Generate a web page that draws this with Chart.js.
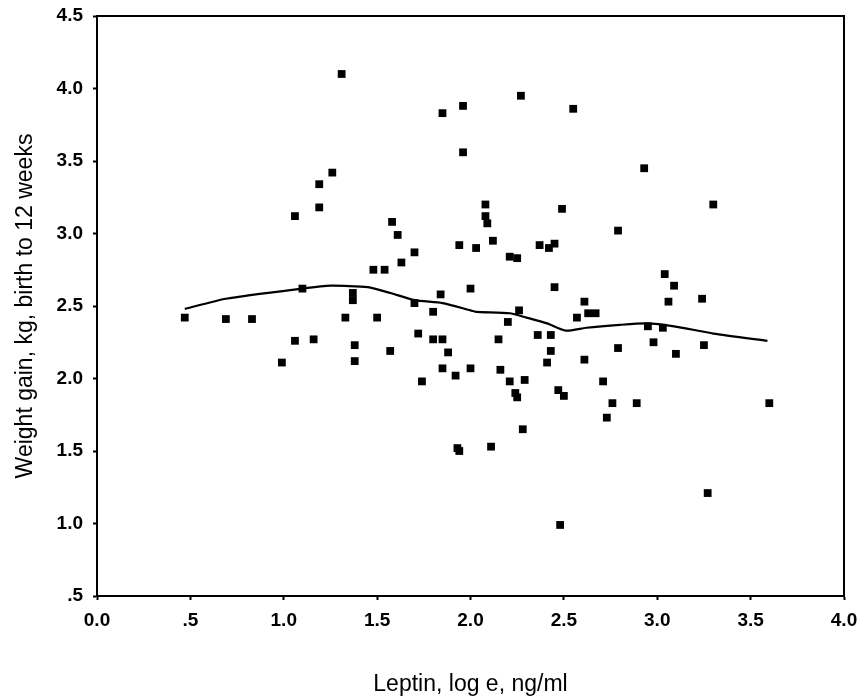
<!DOCTYPE html>
<html>
<head>
<meta charset="utf-8">
<script src="https://cdn.jsdelivr.net/npm/chart.js@4"></script>
<style>
    html, body { margin: 0; padding: 0; background: #fff; }
    #wrap { width: 859px; height: 700px; }
</style>
</head>
<body>
<div id="wrap"><canvas id="leptinChart" width="859" height="700"></canvas></div>
<script>
// Leptin (log e, ng/ml) vs weight gain birth to 12 weeks (kg)
const leptin = [
    0.47, 0.69, 0.83, 0.99, 1.06, 1.06, 1.10, 1.16, 1.19, 1.19,
    1.26, 1.31, 1.33, 1.37, 1.37, 1.38, 1.38, 1.48, 1.50, 1.54,
    1.57, 1.58, 1.61, 1.63, 1.70, 1.70, 1.72, 1.74, 1.80, 1.80,
    1.84, 1.85, 1.85, 1.85, 1.88, 1.92, 1.93, 1.94, 1.94, 1.96,
    1.96, 2.00, 2.00, 2.03, 2.08, 2.08, 2.09, 2.11, 2.12, 2.15,
    2.16, 2.20, 2.21, 2.21, 2.24, 2.25, 2.25, 2.26, 2.27, 2.28,
    2.29, 2.36, 2.37, 2.41, 2.42, 2.43, 2.43, 2.45, 2.45, 2.47,
    2.48, 2.49, 2.50, 2.55, 2.57, 2.61, 2.61, 2.63, 2.67, 2.71,
    2.73, 2.76, 2.79, 2.79, 2.89, 2.93, 2.95, 2.98, 3.03, 3.04,
    3.06, 3.09, 3.10, 3.24, 3.25, 3.27, 3.30, 3.60
];
const weightGain = [
    2.42, 2.41, 2.41, 2.11, 3.12, 2.26, 2.62, 2.27, 3.34, 3.18,
    3.42, 4.10, 2.42, 2.59, 2.54, 2.23, 2.12, 2.75, 2.42, 2.75,
    2.19, 3.08, 2.99, 2.80, 2.87, 2.52, 2.31, 1.98, 2.46, 2.27,
    2.58, 3.83, 2.27, 2.07, 2.18, 2.02, 1.52, 1.50, 2.92, 3.88,
    3.56, 2.62, 2.07, 2.90, 3.20, 3.12, 3.07, 1.53, 2.95, 2.27,
    2.06, 2.39, 2.84, 1.98, 1.90, 2.83, 1.87, 2.47, 3.95, 1.65,
    1.99, 2.30, 2.92, 2.11, 2.90, 2.30, 2.19, 2.93, 2.63, 1.92,
    0.99, 3.17, 1.88, 3.86, 2.42, 2.53, 2.13, 2.45, 2.45, 1.98,
    1.73, 1.83, 2.21, 3.02, 1.83, 3.45, 2.36, 2.25, 2.35, 2.72,
    2.53, 2.64, 2.17, 2.55, 2.23, 1.21, 3.20, 1.83
];

// smoothed fit line
const fitX = [0.47, 0.69, 1.10, 1.25, 1.45, 1.57, 1.70, 1.85, 2.00, 2.03, 2.21, 2.30, 2.41, 2.51, 2.62, 2.80, 2.94, 3.09, 3.30, 3.59];
const fitY = [2.48, 2.55, 2.62, 2.64, 2.63, 2.59, 2.54, 2.52, 2.47, 2.46, 2.45, 2.42, 2.38, 2.33, 2.35, 2.37, 2.38, 2.36, 2.31, 2.26];

const xTicks = [0, 0.5, 1, 1.5, 2, 2.5, 3, 3.5, 4];
const yTicks = [0.5, 1, 1.5, 2, 2.5, 3, 3.5, 4, 4.5];

function fmtTick(v) {
    const s = v.toFixed(1);
    return v === 0.5 ? s.replace(/^0/, '') : s;
}

const fontFamily = '"Liberation Sans", Arial, Helvetica, sans-serif';

// box around the plot area
const frame = {
    id: 'frame',
    afterDraw(chart) {
        const { ctx, chartArea: a } = chart;
        ctx.save();
        ctx.strokeStyle = '#000';
        ctx.lineWidth = 2;
        ctx.strokeRect(a.left, a.top, a.right - a.left, a.bottom - a.top);
        ctx.restore();
    }
};

const ctx = document.getElementById('leptinChart').getContext('2d');
const leptinChart = new Chart(ctx, {
    type: 'scatter',
    data: {
        datasets: [
            {
                label: 'Observed',
                data: leptin.map((x, i) => ({ x: x, y: weightGain[i] })),
                pointStyle: 'rect',
                pointRadius: 5.5,
                backgroundColor: '#000',
                borderColor: '#000',
                borderWidth: 0
            },
            {
                label: 'Fit',
                type: 'line',
                data: fitX.map((x, i) => ({ x: x, y: fitY[i] })),
                borderColor: '#000',
                borderWidth: 2.2,
                pointRadius: 0,
                fill: false,
                tension: 0.2
            }
        ]
    },
    options: {
        responsive: false,
        animation: false,
        layout: { padding: { top: 16, right: 15, left: 0, bottom: 0 } },
        plugins: {
            legend: { display: false },
            tooltip: { enabled: false }
        },
        scales: {
            x: {
                type: 'linear',
                min: 0,
                max: 4,
                afterBuildTicks: scale => { scale.ticks = xTicks.map(v => ({ value: v })); },
                afterFit: scale => {
                    scale.height = 104;
                    scale.paddingLeft = 0;
                    scale.paddingRight = 0;
                },
                grid: { drawOnChartArea: false, tickLength: 4, tickColor: '#000', tickWidth: 2 },
                border: { display: true, color: '#000', width: 2 },
                ticks: {
                    color: '#000',
                    padding: 9,
                    maxRotation: 0,
                    font: { family: fontFamily, size: 19, weight: 'bold' },
                    callback: v => fmtTick(v)
                },
                title: {
                    display: true,
                    text: 'Leptin, log e, ng/ml',
                    color: '#000',
                    padding: { top: 0, bottom: 2 },
                    font: { family: fontFamily, size: 23 }
                }
            },
            y: {
                type: 'linear',
                min: 0.5,
                max: 4.5,
                afterBuildTicks: scale => { scale.ticks = yTicks.map(v => ({ value: v })); },
                afterFit: scale => {
                    scale.width = 97;
                    scale.paddingTop = 0;
                    scale.paddingBottom = 0;
                },
                grid: { drawOnChartArea: false, tickLength: 4, tickColor: '#000', tickWidth: 2 },
                border: { display: true, color: '#000', width: 2 },
                ticks: {
                    color: '#000',
                    padding: 10,
                    font: { family: fontFamily, size: 19, weight: 'bold' },
                    callback: v => fmtTick(v)
                },
                title: {
                    display: true,
                    text: 'Weight gain, kg, birth to 12 weeks',
                    color: '#000',
                    padding: { top: 12, bottom: 0 },
                    font: { family: fontFamily, size: 23 }
                }
            }
        }
    },
    plugins: [frame]
});
</script>
</body>
</html>
